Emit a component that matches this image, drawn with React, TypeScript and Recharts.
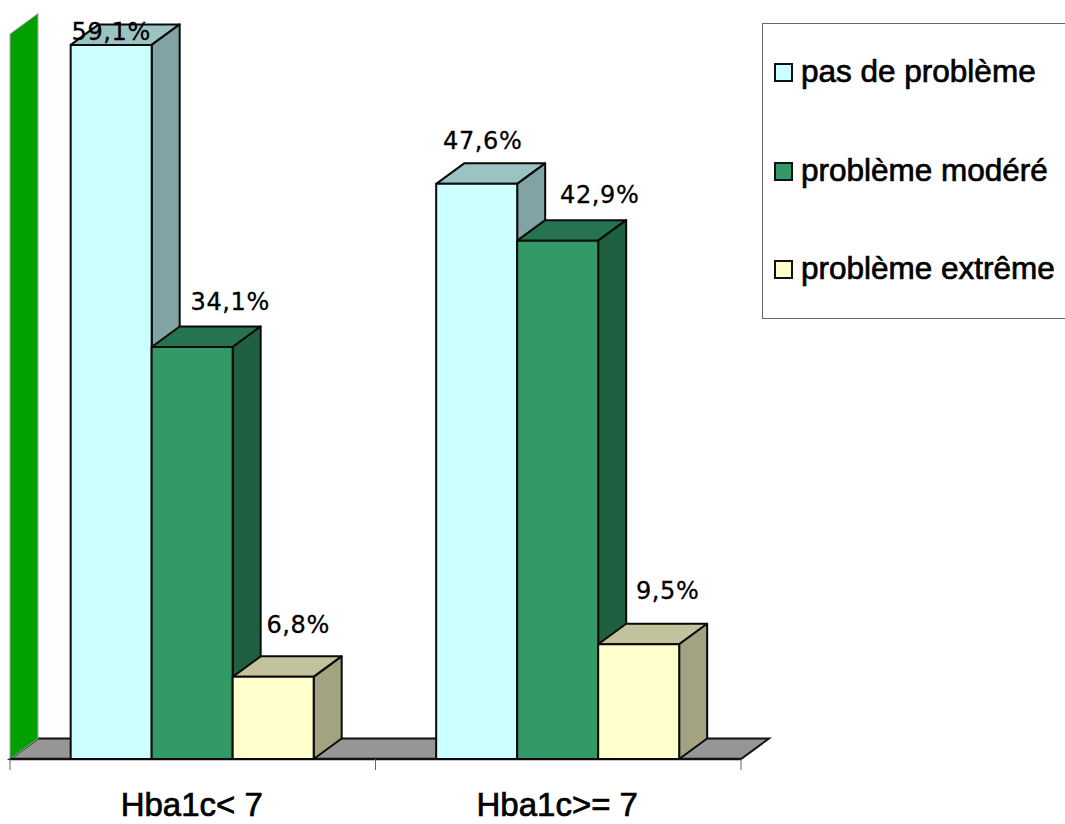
import { BarChart, Bar, XAxis, YAxis, Legend, LabelList, usePlotArea } from "recharts";

const categories = ["Hba1c< 7", "Hba1c>= 7"];
const seriesNames = ["pas de problème", "problème modéré", "problème extrême"];
const pasDeProbleme = [59.1, 47.6];
const problemeModere = [34.1, 42.9];
const problemeExtreme = [6.8, 9.5];

const data = categories.map((name, i) => ({
  name,
  a: pasDeProbleme[i],
  b: problemeModere[i],
  c: problemeExtreme[i],
}));

const DX = 28;
const DY = -20.5;
const SANS = "'Liberation Sans', Arial, sans-serif";

const faces = {
  a: { front: "#ccffff", top: "#9cc3c3", side: "#82a3a3" },
  b: { front: "#339966", top: "#267350", side: "#1f6040" },
  c: { front: "#ffffcc", top: "#c2c29c", side: "#a3a382" },
};

// hand placed in the original, offset from the top centre of each bar's front
const labelOffsets = {
  a: [[0, -13], [6, -43]],
  b: [[38, -45], [42, -46]],
  c: [[25, -52], [29, -53]],
};

function makeBox(color: { front: string; top: string; side: string }) {
  return function Box(props: any) {
    const { x, y, width, height } = props;
    const r = x + width;
    const b = y + height;
    return (
      <g stroke="#0a0a0a" strokeWidth={2} strokeLinejoin="round">
        <polygon points={`${x},${y} ${x + DX},${y + DY} ${r + DX},${y + DY} ${r},${y}`} fill={color.top} />
        <polygon points={`${r},${y} ${r + DX},${y + DY} ${r + DX},${b + DY} ${r},${b}`} fill={color.side} />
        <rect x={x} y={y} width={width} height={height} fill={color.front} />
      </g>
    );
  };
}

function makeLabel(offsets: number[][]) {
  return function ValueLabel(props: any) {
    const { x, y, width, value, index } = props;
    const [ox, oy] = offsets[index];
    return (
      <text
        x={x + width / 2 + ox}
        y={y + oy}
        textAnchor="middle"
        dominantBaseline="central"
        fontFamily="'DejaVu Sans', Verdana, sans-serif"
        fontSize={24}
        letterSpacing={0.6}
        stroke="#000"
        strokeWidth={0.3}
        fill="#000"
      >
        {String(value).replace(".", ",") + "%"}
      </text>
    );
  };
}

// back wall, floor and the tick marks between the categories
function Floor() {
  const plot = usePlotArea();
  if (!plot) return null;
  const { x, y, width, height } = plot;
  const b = y + height;
  const ticks = [x, x + width / 2, x + width];
  return (
    <g>
      <polygon
        points={`${x},${b} ${x + DX},${b + DY} ${x + width + DX},${b + DY} ${x + width},${b}`}
        fill="#969696"
        stroke="#111"
        strokeWidth={2}
      />
      <polygon
        points={`${x},${y} ${x + DX},${y + DY} ${x + DX},${b + DY} ${x},${b}`}
        fill="#00a000"
        stroke="#a8a8a8"
        strokeWidth={1}
      />
      <line x1={x} y1={b} x2={x + width} y2={b} stroke="#111" strokeWidth={2.5} />
      {ticks.map((t) => (
        <line key={t} x1={t} y1={b} x2={t} y2={b + 11} stroke="#666" strokeWidth={1} />
      ))}
    </g>
  );
}

function CategoryTick(props: any) {
  const { x, y, payload } = props;
  return (
    <text x={x - 1} y={y + 49} textAnchor="middle" fontFamily={SANS} fontSize={33} stroke="#000" strokeWidth={0.7} fill="#000">
      {payload.value}
    </text>
  );
}

function LegendBox(props: any) {
  const rowTops = [72, 171, 269];
  return (
    <div style={{ position: "relative", width: 303, height: 296, boxSizing: "border-box", border: "1px solid #666", borderRight: "none", background: "#fff" }}>
      {props.payload.map((item: any, i: number) => (
        <div key={item.value}>
          <div
            style={{
              position: "absolute",
              left: 11,
              top: rowTops[i] - 24 - 9,
              width: 19,
              height: 19,
              boxSizing: "border-box",
              border: "2px solid #111",
              background: item.color,
            }}
          />
          <div
            style={{
              position: "absolute",
              left: 38,
              top: rowTops[i] - 24 - 24,
              lineHeight: "46px",
              fontFamily: SANS,
              fontSize: 31.5,
              color: "#000",
              whiteSpace: "nowrap",
              WebkitTextStroke: "0.7px #000",
            }}
          >
            {item.value}
          </div>
        </div>
      ))}
    </div>
  );
}

export default function App() {
  return (
    <div style={{ position: "absolute", left: 0, top: 0, width: 1065, height: 824 }}>
      <BarChart
        width={1065}
        height={824}
        data={data}
        margin={{ top: 34, right: 324, bottom: 0, left: 10 }}
        barCategoryGap="16.6%"
        barGap={0}
      >
        <Floor />
        <YAxis hide domain={[0, 60]} />
        <XAxis dataKey="name" height={65} axisLine={false} tickLine={false} interval={0} tick={<CategoryTick />} />
        <Legend
          content={<LegendBox />}
          layout="vertical"
          align="center"
          verticalAlign="middle"
          itemSorter={null}
          wrapperStyle={{ position: "absolute", left: 762, top: 23, width: 303, height: 296 }}
        />
        <Bar dataKey="a" name={seriesNames[0]} fill={faces.a.front} shape={makeBox(faces.a)} isAnimationActive={false}>
          <LabelList dataKey="a" content={makeLabel(labelOffsets.a)} />
        </Bar>
        <Bar dataKey="b" name={seriesNames[1]} fill={faces.b.front} shape={makeBox(faces.b)} isAnimationActive={false}>
          <LabelList dataKey="b" content={makeLabel(labelOffsets.b)} />
        </Bar>
        <Bar dataKey="c" name={seriesNames[2]} fill={faces.c.front} shape={makeBox(faces.c)} isAnimationActive={false}>
          <LabelList dataKey="c" content={makeLabel(labelOffsets.c)} />
        </Bar>
      </BarChart>
    </div>
  );
}
